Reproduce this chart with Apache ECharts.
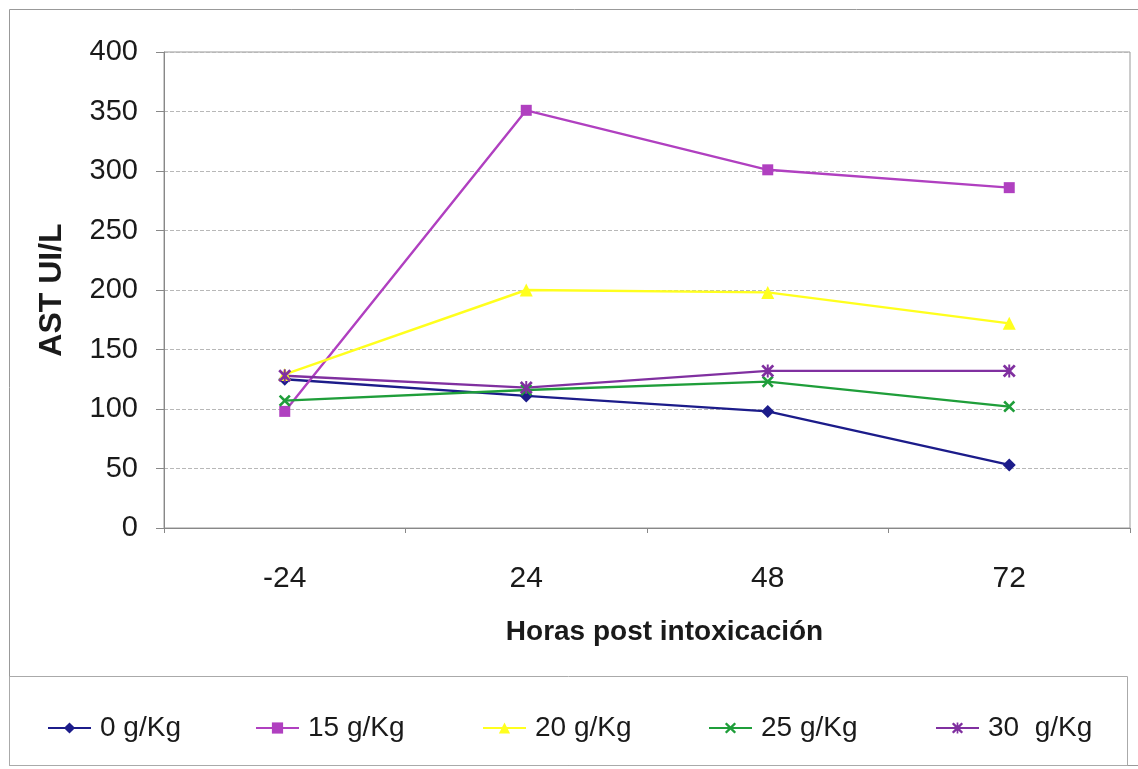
<!DOCTYPE html>
<html>
<head>
<meta charset="utf-8">
<script src="https://cdn.jsdelivr.net/npm/echarts@6/dist/echarts.min.js"></script>
<style>
html,body{margin:0;padding:0;background:#fff;}
#chart{width:1138px;height:769px;}
</style>
</head>
<body>
<div id="chart"></div>
<script>
var categories = ['-24', '24', '48', '72'];
var seriesNames = ['0 g/Kg', '15 g/Kg', '20 g/Kg', '25 g/Kg', '30  g/Kg'];
var s0 = [125, 111, 98, 53];
var s15 = [98, 351, 301, 286];
var s20 = [129, 200, 198, 172];
var s25 = [107, 116, 123, 102];
var s30 = [128, 118, 132, 132];
var yTicks = [0, 50, 100, 150, 200, 250, 300, 350, 400];

var colors = ['#1c1c8a', '#b040c0', '#ffff1e', '#1f9e3a', '#8030a0'];
var xPath = 'path://M0,3 L3,0 L10,7 L17,0 L20,3 L13,10 L20,17 L17,20 L10,13 L3,20 L0,17 L7,10 Z';
var starPath = 'path://M0,3 L3,0 L10,7 L17,0 L20,3 L13,10 L20,17 L17,20 L10,13 L3,20 L0,17 L7,10 Z M8.5,0 L11.5,0 L11.5,20 L8.5,20 Z';
var symbols = ['diamond', 'rect', 'triangle', xPath, starPath];
var symbolSizes = [13, 11, 13, 12, 13];
var values = [s0, s15, s20, s25, s30];
var legendLefts = [42, 250, 477, 703, 930];

var font = "'Liberation Sans', Arial, sans-serif";

var series = seriesNames.map(function (n, i) {
  return {
    name: n,
    type: 'line',
    data: values[i],
    symbol: symbols[i],
    symbolSize: symbolSizes[i],
    showAllSymbol: true,
    lineStyle: { color: colors[i], width: 2.4 },
    itemStyle: { color: colors[i] },
    emphasis: { disabled: true },
    animation: false
  };
});

var legends = seriesNames.map(function (n, i) {
  return {
    data: [n],
    left: legendLefts[i],
    top: 709,
    itemWidth: 43,
    itemHeight: 14,
    textStyle: { fontSize: 28, fontFamily: font, color: '#1a1a1a', padding: [0, 0, 0, 4] },
    selectedMode: false
  };
});

var chart = echarts.init(document.getElementById('chart'), null, { renderer: 'canvas' });
chart.setOption({
  backgroundColor: '#ffffff',
  animation: false,
  color: colors,
  graphic: [
    { type: 'rect', shape: { x: 9.5, y: 9.5, width: 1140, height: 756 }, style: { fill: 'none', stroke: '#999', lineWidth: 1 }, silent: true, z: -1 },
    { type: 'rect', shape: { x: 9.5, y: 676.5, width: 1118, height: 89 }, style: { fill: 'none', stroke: '#aaa', lineWidth: 1 }, silent: true, z: -1 }
  ],
  legend: legends,
  grid: {
    left: 164, right: 8, top: 52, bottom: 241,
    show: true, borderColor: '#999', borderWidth: 1, backgroundColor: 'transparent'
  },
  xAxis: {
    type: 'category',
    data: categories,
    boundaryGap: true,
    name: 'Horas post intoxicación',
    nameLocation: 'middle',
    nameGap: 90,
    nameTextStyle: { fontSize: 28, fontWeight: 'bold', fontFamily: font, color: '#1a1a1a', padding: [0, 0, 0, 35] },
    axisLine: { lineStyle: { color: '#888', width: 1 } },
    axisTick: { show: true, length: 5, lineStyle: { color: '#888' } },
    axisLabel: { fontSize: 30, fontFamily: font, color: '#1a1a1a', margin: 36 },
    splitLine: { show: false }
  },
  yAxis: {
    type: 'value',
    min: yTicks[0],
    max: yTicks[yTicks.length - 1],
    interval: yTicks[1] - yTicks[0],
    name: 'AST UI/L',
    nameLocation: 'middle',
    nameRotate: 90,
    nameGap: 96,
    nameTextStyle: { fontSize: 32, fontWeight: 'bold', fontFamily: font, color: '#1a1a1a' },
    axisLine: { show: true, lineStyle: { color: '#888', width: 1 } },
    axisTick: { show: true, length: 8, lineStyle: { color: '#888' } },
    axisLabel: { fontSize: 29, fontFamily: font, color: '#1a1a1a', margin: 26 },
    splitLine: { show: true, lineStyle: { color: '#b8b8b8', type: 'dashed', width: 1 } }
  },
  series: series
});
</script>
</body>
</html>
